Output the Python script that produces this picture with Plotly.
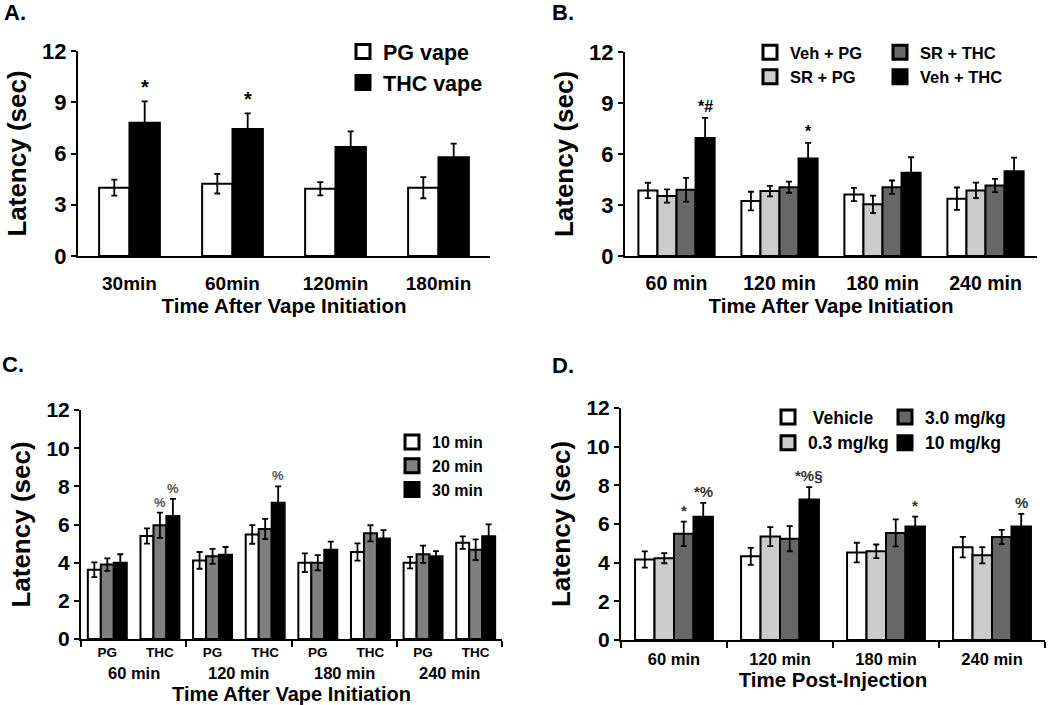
import numpy as np
import plotly.graph_objects as go

W, H = 1050, 705
FONT = "Liberation Sans, Arial, sans-serif"

# ---------------- data ----------------
# Panel A
a_times = ["30min", "60min", "120min", "180min"]
a_pg = [4.0, 4.23, 3.94, 4.0]
a_pg_err = [0.47, 0.57, 0.39, 0.62]
a_thc = [7.8, 7.43, 6.38, 5.78]
a_thc_err = [1.25, 0.92, 0.92, 0.8]
a_thc_marks = ["*", "*", "", ""]

# Panel B
b_times = ["60 min", "120 min", "180 min", "240 min"]
b_veh_pg = [3.86, 3.23, 3.62, 3.37]
b_veh_pg_err = [0.45, 0.55, 0.39, 0.66]
b_sr_pg = [3.53, 3.82, 3.04, 3.86]
b_sr_pg_err = [0.39, 0.31, 0.51, 0.46]
b_sr_thc = [3.9, 4.05, 4.05, 4.15]
b_sr_thc_err = [0.7, 0.33, 0.39, 0.39]
b_veh_thc = [6.94, 5.73, 4.89, 4.99]
b_veh_thc_err = [1.18, 0.93, 0.92, 0.8]
b_veh_thc_marks = ["*#", "*", "", ""]

# Panel C
c_times = ["60 min", "120 min", "180 min", "240 min"]
c_drugs = ["PG", "THC"]
c_10 = [3.63, 5.4, 4.12, 5.48, 4.0, 4.56, 4.0, 5.05]
c_10_err = [0.39, 0.4, 0.44, 0.49, 0.49, 0.45, 0.3, 0.33]
c_20 = [3.9, 5.96, 4.33, 5.76, 4.0, 5.54, 4.44, 4.68]
c_20_err = [0.33, 0.66, 0.39, 0.53, 0.4, 0.42, 0.45, 0.54]
c_30 = [4.0, 6.45, 4.42, 7.14, 4.68, 5.26, 4.33, 5.38]
c_30_err = [0.44, 0.89, 0.4, 0.86, 0.42, 0.45, 0.28, 0.63]
c_20_marks = ["", "%", "", "", "", "", "", ""]
c_30_marks = ["", "%", "", "%", "", "", "", ""]

# Panel D
d_times = ["60 min", "120 min", "180 min", "240 min"]
d_veh = [4.16, 4.33, 4.52, 4.8]
d_veh_err = [0.42, 0.44, 0.51, 0.53]
d_03 = [4.23, 5.35, 4.59, 4.38]
d_03_err = [0.26, 0.49, 0.35, 0.42]
d_30 = [5.49, 5.24, 5.54, 5.33]
d_30_err = [0.63, 0.65, 0.7, 0.37]
d_10 = [6.38, 7.27, 5.87, 5.87]
d_10_err = [0.71, 0.64, 0.51, 0.65]
d_30_marks = ["*", "", "", ""]
d_10_marks = ["*%", "*%§", "*", "%"]

WHITE, LIGHT, MID, DARK, BLACK = "#ffffff", "#cbcbcb", "#7f7f7f", "#676767", "#000000"

# ---------------- layout helpers ----------------
def dom_x(x0, x1):
    return [x0 / W, x1 / W]

def dom_y(top, bottom):
    return [1 - bottom / H, 1 - top / H]

fig = go.Figure()
annotations = []

def add_panel(ax, series, n_pos, gap, mark_size, mark_color="black"):
    """series: list of (name, vals, errs, color, legend, marks)"""
    xref = "x" if ax == 1 else f"x{ax}"
    yref = "y" if ax == 1 else f"y{ax}"
    pos = np.arange(n_pos)
    n = len(series)
    w = (1 - gap) / n
    for i, (name, vals, errs, color, leg, marks) in enumerate(series):
        off = -(1 - gap) / 2 + w * i
        fig.add_trace(go.Bar(
            x=pos, y=vals, name=name, width=w, offset=off,
            marker=dict(color=color, line=dict(color="black", width=2)),
            error_y=dict(type="data", array=errs, color="black", thickness=1.8, width=3),
            xaxis=xref, yaxis=yref, showlegend=False, legendgroup=name,
        ))
        # legend swatch (square key, like the original figure's legend)
        fig.add_trace(go.Scatter(
            x=[None], y=[None], name=name, mode="markers", legendgroup=name,
            marker=dict(symbol="square", size=14, color=color, line=dict(color="black", width=3)),
            xaxis=xref, yaxis=yref, legend=leg, showlegend=True, hoverinfo="skip",
        ))
        if marks:
            for j, m in enumerate(marks):
                if m:
                    annotations.append(dict(
                        x=pos[j] + off + w / 2, y=vals[j] + errs[j], xref=xref, yref=yref,
                        text=m, showarrow=False, yanchor="bottom", yshift=1,
                        font=dict(size=mark_size, color=mark_color, family=FONT, weight="bold"),
                    ))

add_panel(1, [
    ("PG vape", a_pg, a_pg_err, WHITE, "legend", None),
    ("THC vape", a_thc, a_thc_err, BLACK, "legend", a_thc_marks),
], 4, 0.41, 20)

add_panel(2, [
    ("Veh + PG", b_veh_pg, b_veh_pg_err, WHITE, "legend2", None),
    ("SR + PG", b_sr_pg, b_sr_pg_err, LIGHT, "legend2", None),
    ("SR + THC", b_sr_thc, b_sr_thc_err, DARK, "legend3", None),
    ("Veh + THC", b_veh_thc, b_veh_thc_err, BLACK, "legend3", b_veh_thc_marks),
], 4, 0.26, 16)

add_panel(3, [
    ("10 min", c_10, c_10_err, WHITE, "legend4", None),
    ("20 min", c_20, c_20_err, MID, "legend4", c_20_marks),
    ("30 min", c_30, c_30_err, BLACK, "legend4", c_30_marks),
], 8, 0.26, 13, "#555555")

add_panel(4, [
    ("\u00a0Vehicle", d_veh, d_veh_err, WHITE, "legend5", None),
    ("0.3 mg/kg", d_03, d_03_err, LIGHT, "legend5", None),
    ("3.0 mg/kg", d_30, d_30_err, DARK, "legend6", d_30_marks),
    ("10 mg/kg", d_10, d_10_err, BLACK, "legend6", d_10_marks),
], 4, 0.265, 15, "#333333")

# ---------------- axes ----------------
def yaxis(domain, dtick, tsize, anchor):
    return dict(domain=domain, range=[0, 12], dtick=dtick, tick0=0, anchor=anchor,
                showline=True, linecolor="black", linewidth=2, ticks="outside",
                ticklen=5, tickwidth=2, tickcolor="black", showgrid=False, zeroline=False,
                tickfont=dict(size=tsize, family=FONT, weight="bold", color="black"),
                title=dict(text="Latency (sec)", standoff=8,
                           font=dict(size=26, family=FONT, weight="bold", color="black")))

def xaxis(domain, anchor, n, labels, tsize, title, tsize_title=20.5, standoff=4, lab_standoff=9, minor=None):
    d = dict(domain=domain, anchor=anchor, range=[-0.5, n - 0.5],
             tickmode="array", tickvals=list(range(n)), ticktext=labels,
             showline=True, linecolor="black", linewidth=2, ticks="", showgrid=False, zeroline=False,
             ticklabelstandoff=lab_standoff,
             tickfont=dict(size=tsize, family=FONT, weight="bold", color="black"),
             title=dict(text=title, standoff=standoff,
                        font=dict(size=tsize_title, family=FONT, weight="bold", color="black")))
    if minor is not None:
        d["minor"] = dict(tickvals=minor, ticks="outside", ticklen=6, tickwidth=2,
                          tickcolor="black", showgrid=False)
    return d

c_ticktext = [d for _ in c_times for d in c_drugs]
fig.update_layout(
    xaxis=xaxis(dom_x(78, 490), "y", 4, a_times, 19, "Time After Vape Initiation"),
    yaxis=yaxis(dom_y(51, 256), 3, 22, "x"),
    xaxis2=xaxis(dom_x(625, 1037), "y2", 4, b_times, 19.5, "Time After Vape Initiation"),
    yaxis2=yaxis(dom_y(52, 256), 3, 22, "x2"),
    xaxis3=xaxis(dom_x(81, 502), "y3", 8, c_ticktext, 13.5, "Time After Vape Initiation",
                 20, 28, 0, minor=[-0.5, 1.5, 3.5, 5.5, 7.5]),
    yaxis3=yaxis(dom_y(410, 639), 2, 21, "x3"),
    xaxis4=xaxis(dom_x(621, 1045), "y4", 4, d_times, 16.5, "Time Post-Injection",
                 20.5, 4, 3, minor=[-0.5, 0.5, 1.5, 2.5, 3.5]),
    yaxis4=yaxis(dom_y(408, 640), 2, 21, "x4"),
)

# outer labels for panel C
for g, t in enumerate(c_times):
    annotations.append(dict(x=2 * g + 0.5, y=1 - 673 / H, xref="x3", yref="paper", text=t,
                            showarrow=False, yanchor="middle",
                            font=dict(size=16.5, family=FONT, weight="bold", color="black")))

# panel letters
for letter, px, py in [("A.", 2, 12), ("B.", 550, 12), ("C.", 0, 364), ("D.", 550, 365)]:
    annotations.append(dict(x=px / W, y=1 - py / H, xref="paper", yref="paper", text=letter,
                            showarrow=False, xanchor="left", yanchor="middle",
                            font=dict(size=22, family=FONT, weight="bold", color="black")))

def legend(px, py, size):
    return dict(x=px / W, y=1 - py / H, xref="paper", yref="paper", xanchor="left", yanchor="top",
                bgcolor="rgba(0,0,0,0)", borderwidth=0, itemwidth=30, tracegroupgap=0,
                traceorder="normal",
                font=dict(size=size, family=FONT, weight="bold", color="black"))

fig.update_layout(
    width=W, height=H, margin=dict(l=0, r=0, t=0, b=0, pad=0, autoexpand=False),
    paper_bgcolor="white", plot_bgcolor="white",
    barmode="overlay", annotations=annotations,
    font=dict(family=FONT, color="black"),
    legend=legend(343, 31, 21.5),
    legend2=legend(750, 35, 16.5),
    legend3=legend(880, 35, 16.5),
    legend4=legend(392, 425, 16),
    legend5=legend(768, 399, 17.5),
    legend6=legend(885, 399, 17.5),
)

fig.write_html("out.html", config={"displayModeBar": False},
               post_script="document.body.style.margin='0';document.body.style.overflow='hidden';")
